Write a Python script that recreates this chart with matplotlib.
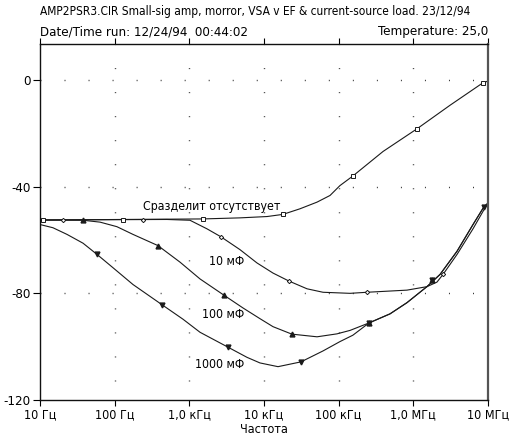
import matplotlib
matplotlib.use("Agg")
import matplotlib.pyplot as plt
from matplotlib import font_manager
from matplotlib.ticker import NullLocator

# prefer a narrow/condensed sans if one is installed
fam, stretch = "Roboto", "normal"
for f in font_manager.fontManager.ttflist:
    if "Sans" in f.name and ("Narrow" in f.name or "Condensed" in f.name
                             or str(f.stretch) in ("condensed", "semi-condensed")):
        fam, stretch = f.name, f.stretch
        break
plt.rcParams["font.family"] = [fam, "DejaVu Sans"]
plt.rcParams["font.stretch"] = stretch

# data (Hz, dB)
f_a = [10, 1520, 4760, 11e3, 17.9e3, 30.3e3, 51.3e3, 76.6e3, 104e3, 155e3, 393e3, 1.12e6, 3.09e6, 8.5e6, 10e6]
db_a = [-52.5, -52.1, -51.7, -51.2, -50.4, -48.3, -45.8, -43.3, -39.6, -36.0, -26.8, -18.3, -9.5, -1.1, -0.4]
mk_f_a = [11, 129, 1524, 17.9e3, 155e3, 1.12e6, 8.5e6]
mk_db_a = [-52.5, -52.4, -52.1, -50.4, -36.0, -18.3, -1.1]

f_b = [10, 502, 1020, 1720, 2650, 4760, 8050, 13.2e3, 21.6e3, 37.7e3, 61.7e3, 142e3, 240e3, 822e3,
       1.52e6, 2.07e6, 2.5e6, 3.85e6, 6.3e6, 10e6]
db_b = [-52.5, -52.3, -52.6, -55.8, -58.8, -63.6, -68.6, -72.4, -75.4, -78.3, -79.6, -80.0, -79.6, -78.8,
        -77.5, -75.8, -72.9, -65.4, -55.8, -46.0]
mk_f_b = [20.3, 239, 2650, 21.6e3, 240e3, 2.5e6]
mk_db_b = [-52.5, -52.4, -58.8, -75.4, -79.6, -72.9]

f_c = [10, 37.7, 63.7, 107, 176, 380, 750, 1390, 2910, 5240, 8830, 13.2e3, 23.6e3, 51.3e3, 94.8e3, 142e3,
       255e3, 487e3, 822e3, 1.52e6, 2.28e6, 3.85e6, 6.3e6, 8.84e6, 10e6]
db_c = [-52.5, -52.6, -53.3, -55.0, -57.9, -62.1, -68.3, -74.6, -80.7, -85.5, -89.5, -92.5, -95.3, -96.3,
        -95.2, -93.9, -91.1, -87.7, -83.5, -77.5, -72.9, -64.2, -54.2, -47.5, -46.2]
mk_f_c = [37.7, 380, 2910, 23.6e3, 255e3, 1.8e6]
mk_db_c = [-52.6, -62.1, -80.7, -95.3, -91.1, -75.0]

f_d = [10, 14.9, 23, 37.7, 58, 95, 176, 427, 822, 1390, 3300, 5920, 8830, 15.4e3, 31.3e3, 61.7e3, 104e3,
       155e3, 255e3, 487e3, 822e3, 1.52e6, 2.28e6, 3.85e6, 6.3e6, 8.84e6, 10e6]
db_d = [-54.2, -55.4, -57.9, -61.2, -65.4, -70.4, -76.7, -84.2, -89.7, -94.6, -100.2, -104.0, -106.1, -107.5,
        -105.7, -101.6, -98.1, -95.7, -91.1, -87.7, -83.5, -77.5, -72.9, -64.2, -54.2, -47.5, -46.2]
mk_f_d = [58, 427, 3300, 31.3e3, 255e3, 1.8e6, 8.84e6]
mk_db_d = [-65.4, -84.2, -100.2, -105.7, -91.1, -75.0, -47.5]

xticks = [10, 100, 1e3, 1e4, 1e5, 1e6, 1e7]
xlabels = ["10 Гц", "100 Гц", "1,0 кГц", "10 кГц", "100 кГц", "1,0 МГц", "10 МГц"]
yticks = [0, -40, -80, -120]

fig = plt.figure(figsize=(5.12, 4.41), dpi=100)
ax = fig.add_axes([40 / 512, 41 / 441, 448 / 512, 356 / 441])
ax.set_xscale("log")
ax.set_xlim(10, 1e7)
ax.set_ylim(-120, 13.5)

# sparse dotted grid
for x in xticks[1:-1]:
    ax.axvline(x, color="#333333", lw=1, ls=(3.6, (0.7, 16.6)), zorder=1)
for y in yticks[:-1]:
    ax.axhline(y, color="#333333", lw=1, ls=(0, (0.7, 16.6)), zorder=1)

lc = "#1a1a1a"
for fx, dy in [(f_a, db_a), (f_b, db_b), (f_c, db_c), (f_d, db_d)]:
    ax.plot(fx, dy, color=lc, lw=0.8)
ax.plot(mk_f_a, mk_db_a, ls="none", marker="s", ms=3, mfc="white", mec=lc, mew=0.7)
ax.plot(mk_f_b, mk_db_b, ls="none", marker="D", ms=2.2, mfc="white", mec=lc, mew=0.7)
ax.plot(mk_f_c, mk_db_c, ls="none", marker="^", ms=3.5, color=lc)
ax.plot(mk_f_d, mk_db_d, ls="none", marker="v", ms=3.5, color=lc)

fs = 9.5
lfs = 8.8
ax.text(239, -47.5, "Сразделит отсутствует", fontsize=lfs, ha="left", va="center")
ax.text(5400, -67.9, "10 мФ", fontsize=lfs, ha="right", va="center")
ax.text(5400, -88.0, "100 мФ", fontsize=lfs, ha="right", va="center")
ax.text(5400, -106.8, "1000 мФ", fontsize=lfs, ha="right", va="center")

ax.set_xticks(xticks, xlabels)
ax.xaxis.set_minor_locator(NullLocator())
ax.set_yticks(yticks, [str(v) for v in yticks])
ax.tick_params(axis="x", top=True, length=4, width=0.8, pad=2, labelsize=9)
ax.tick_params(axis="y", length=5, width=0.8, pad=2, labelsize=fs)
ax.set_xlabel("Частота", fontsize=9, labelpad=1)

for s in ["left", "bottom", "top"]:
    ax.spines[s].set_linewidth(1.0)
    ax.spines[s].set_color("#111111")
ax.spines["right"].set_linewidth(1.6)
ax.spines["right"].set_color("#555555")

title = fig.text(40 / 512, 1 - 12 / 441,
                 "AMP2PSR3.CIR Small-sig amp, morror, VSA v EF & current-source load. 23/12/94",
                 fontsize=fs, ha="left", va="center")
fig.text(40 / 512, 1 - 32 / 441, "Date/Time run: 12/24/94  00:44:02", fontsize=fs, ha="left", va="center")
fig.text(488 / 512, 1 - 32 / 441, "Temperature: 25,0", fontsize=fs, ha="right", va="center")

# shrink the title so it spans about the same width as in the original
r = fig.canvas.get_renderer()
w = title.get_window_extent(r).width
if w > 435:
    title.set_fontsize(fs * 435 / w)

fig.savefig("out.png", dpi=100)
